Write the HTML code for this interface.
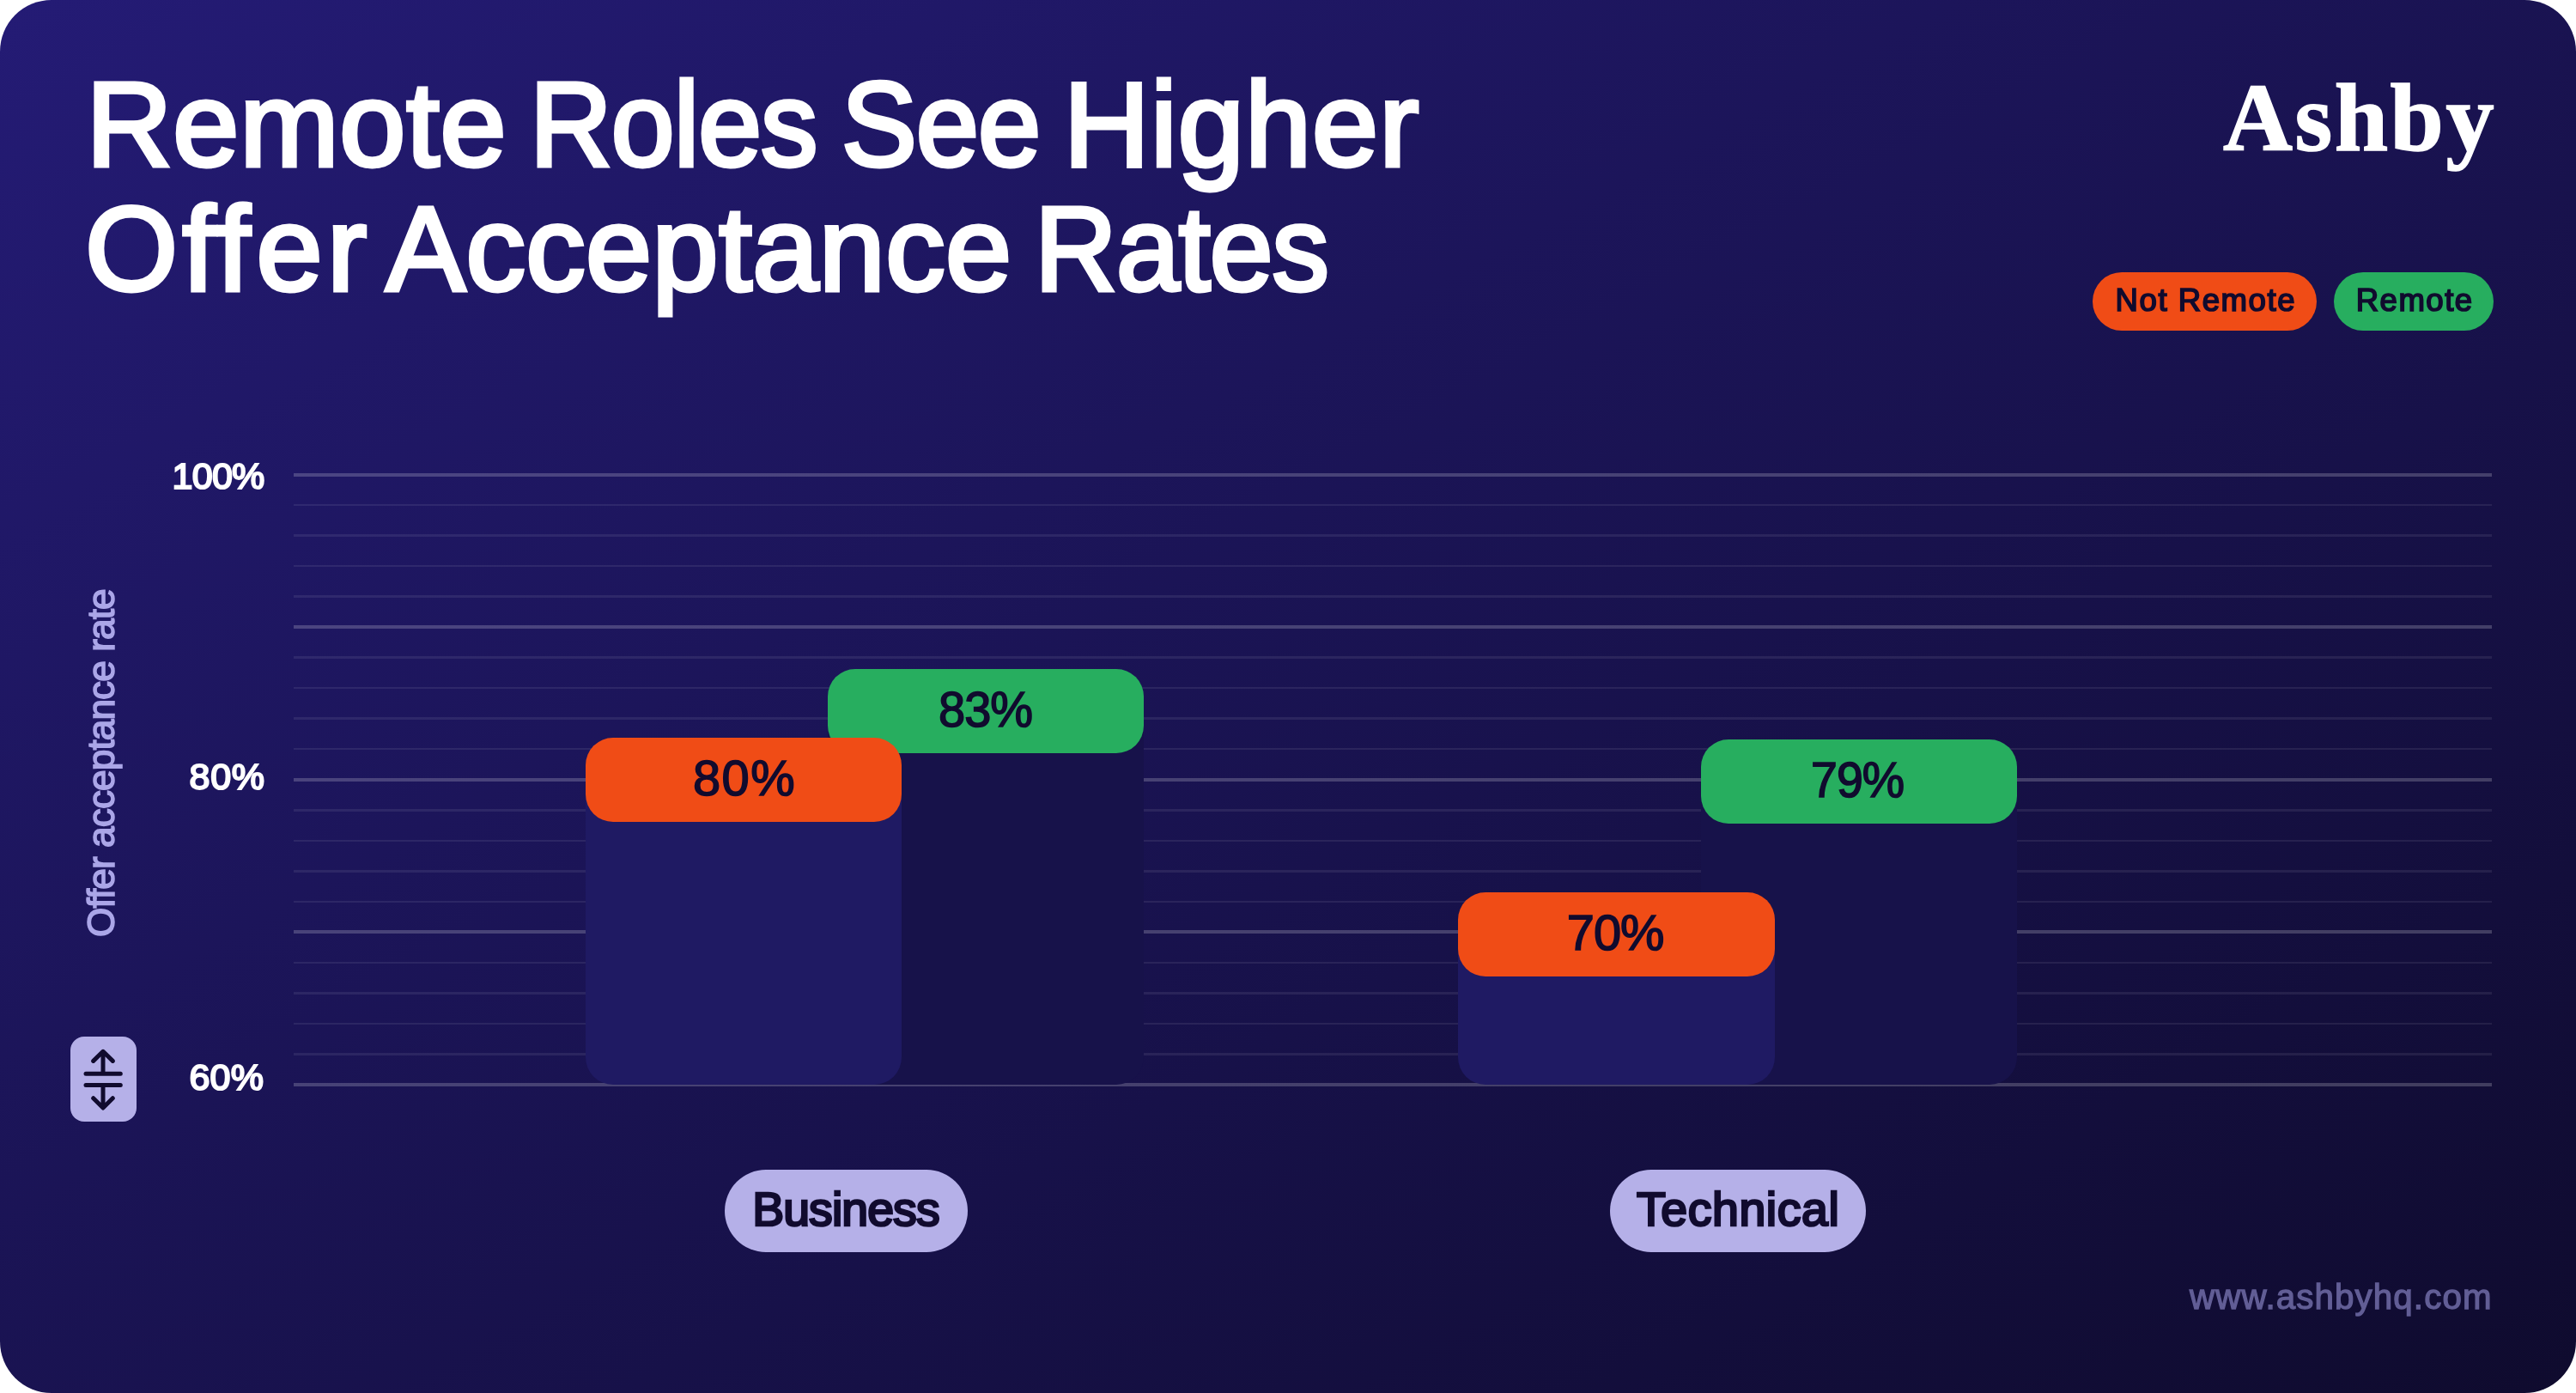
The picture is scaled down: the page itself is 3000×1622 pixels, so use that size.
<!DOCTYPE html>
<html lang="en">
<head>
<meta charset="utf-8">
<title>Remote Roles See Higher Offer Acceptance Rates</title>
<style>
  html, body { margin: 0; padding: 0; background: #ffffff; }
  body { width: 3000px; height: 1622px; overflow: hidden; position: relative;
         font-family: "Liberation Sans", sans-serif; }
  .card { position: absolute; left: 0; top: 0; width: 3000px; height: 1622px;
          border-radius: 60px; overflow: hidden;
          background: linear-gradient(to bottom right, #241b75 0%, #0f0b2e 100%); will-change: transform; }
  .t { position: absolute; white-space: nowrap; line-height: 1; margin: 0; padding: 0; transform-origin: 0 0; }
  h1 { margin: 0; padding: 0; font-size: inherit; font-weight: inherit; }

  .title { color: #ffffff; font-weight: 400; font-size: 138.5px; -webkit-text-stroke: 4.8px #ffffff; }

  #logo { color: #ffffff; font-family: "Liberation Serif", serif; font-weight: 700; font-size: 112px; -webkit-text-stroke: 1.6px #ffffff; }

  .pill { position: absolute; border-radius: 999px; }
  #lg1 { left: 2437px; top: 317px; width: 260.5px; height: 68px; background: #f04c16; }
  #lg2 { left: 2717.5px; top: 317px; width: 186px; height: 68px; background: #27ae5f; }
  .lgt { color: #110b2e; font-size: 36.6px; -webkit-text-stroke: 1.7px #110b2e; }

  .gl { position: absolute; left: 342px; width: 2560px; }
  .gl.major { height: 4px; background: rgba(255,255,255,0.2); }
  .gl.minor { height: 2.5px; background: rgba(255,255,255,0.08); }

  .tick { color: #ffffff; font-size: 43px; -webkit-text-stroke: 2.1px #ffffff; }

  #ylab { color: #aba6e8; font-size: 44.3px; left: 0; top: 0; -webkit-text-stroke: 1.5px #aba6e8; }

  .bar { position: absolute; border-radius: 0 0 32px 32px; }
  .cap { position: absolute; border-radius: 32px; height: 98px; }
  .val { color: #110b2e; font-size: 57.8px; -webkit-text-stroke: 1.6px #110b2e; }
  .front { background: #1f1a63; }
  .back { background: #17124a; }
  .or { background: #f04c16; }
  .gr { background: #27ae5f; }

  .cat { background: #b5b0e8; }
  .catt { color: #110b2e; font-size: 55.4px; -webkit-text-stroke: 2.7px #110b2e; }

  #icon { position: absolute; left: 82px; top: 1207px; width: 76.5px; height: 99px;
          border-radius: 16px; background: #b5b0e8; }
  #icon svg { display: block; }

  #url { color: #625e96; font-size: 40.3px; -webkit-text-stroke: 1.3px #625e96; }
</style>
</head>
<body>
<div class="card">

  <h1 class="title">
    <span class="t" style="left:100.50px;top:75.96px;letter-spacing:0.80px">Remote</span>
    <span class="t" style="left:617.08px;top:75.96px;letter-spacing:-1.00px;transform:scaleX(0.9580)">Roles</span>
    <span class="t" style="left:979.60px;top:75.96px;letter-spacing:-1.00px;transform:scaleX(0.9498)">See</span>
    <span class="t" style="left:1238.80px;top:75.96px;letter-spacing:1.12px">Higher</span>
    <span class="t" style="left:99.30px;top:220.96px;letter-spacing:5.47px">Of<span style="margin-left:-3.6px">f</span><span style="margin-left:1.6px">e</span>r</span>
    <span class="t" style="left:449.50px;top:220.96px;letter-spacing:0.54px">Acceptance</span>
    <span class="t" style="left:1205.27px;top:220.96px;letter-spacing:-1.00px;transform:scaleX(0.9584)">Rates</span>
  </h1>

  <div class="t" id="logo" style="left:2589.00px;top:81.30px;letter-spacing:2.60px">Ashby</div>

  <div class="pill" id="lg1"></div>
  <div class="pill" id="lg2"></div>
  <div class="t lgt" style="left:2463.60px;top:331.97px;letter-spacing:1.53px">Not Remote</div>
  <div class="t lgt" style="left:2743.70px;top:331.97px;letter-spacing:1.48px">Remote</div>

  <div class="gl major" style="top:550.50px"></div>
  <div class="gl minor" style="top:586.77px"></div>
  <div class="gl minor" style="top:622.30px"></div>
  <div class="gl minor" style="top:657.83px"></div>
  <div class="gl minor" style="top:693.35px"></div>
  <div class="gl major" style="top:728.12px"></div>
  <div class="gl minor" style="top:764.40px"></div>
  <div class="gl minor" style="top:799.92px"></div>
  <div class="gl minor" style="top:835.45px"></div>
  <div class="gl minor" style="top:870.97px"></div>
  <div class="gl major" style="top:905.75px"></div>
  <div class="gl minor" style="top:942.02px"></div>
  <div class="gl minor" style="top:977.55px"></div>
  <div class="gl minor" style="top:1013.08px"></div>
  <div class="gl minor" style="top:1048.60px"></div>
  <div class="gl major" style="top:1083.38px"></div>
  <div class="gl minor" style="top:1119.65px"></div>
  <div class="gl minor" style="top:1155.17px"></div>
  <div class="gl minor" style="top:1190.70px"></div>
  <div class="gl minor" style="top:1226.22px"></div>
  <div class="gl major" style="top:1261.00px"></div>

  <!-- Business: Remote (behind) -->
  <div class="bar back" style="left:964px;top:828px;width:368px;height:434.5px"></div>
  <div class="cap gr" style="left:964px;top:779px;width:368px"></div>
  <div class="t val" style="left:1092.86px;top:798.27px;letter-spacing:-1.00px;transform:scaleX(0.9691)">83%</div>
  <!-- Business: Not Remote (front) -->
  <div class="bar front" style="left:682px;top:908px;width:368px;height:354.5px"></div>
  <div class="cap or" style="left:682px;top:859px;width:368px"></div>
  <div class="t val" style="left:807.00px;top:878.27px;letter-spacing:1.45px">80%</div>
  <!-- Technical: Remote (behind) -->
  <div class="bar back" style="left:1980.5px;top:910px;width:368px;height:352.5px"></div>
  <div class="cap gr" style="left:1980.5px;top:861px;width:368px"></div>
  <div class="t val" style="left:2109.28px;top:880.07px;letter-spacing:-1.00px;transform:scaleX(0.9600)">79%</div>
  <!-- Technical: Not Remote (front) -->
  <div class="bar front" style="left:1698px;top:1088px;width:368.5px;height:174.5px"></div>
  <div class="cap or" style="left:1698px;top:1039px;width:368.5px"></div>
  <div class="t val" style="left:1824.80px;top:1058.07px;letter-spacing:-1.00px">70%</div>

  <div class="t tick" style="left:200.40px;top:533.35px;letter-spacing:-0.67px">100%</div>
  <div class="t tick" style="left:220.60px;top:883.45px;letter-spacing:0.65px">80%</div>
  <div class="t tick" style="left:220.40px;top:1233.35px;letter-spacing:0.30px">60%</div>

  <div class="t" id="ylab" style="letter-spacing:-0.97px;transform:translate(96.15px,1091.10px) rotate(-90deg)">Offer acceptance rate</div>

  <div id="icon">
    <svg width="76.5" height="99" viewBox="0 0 76.5 99" fill="none" stroke="#110b2e" stroke-width="5" stroke-linecap="round" stroke-linejoin="round">
      <path d="M18 43.3 H58.3 M18 56.5 H58.3 M38 43.3 V17.5 M26.7 28.4 L38 17.3 L49.3 28.4 M38 56.5 V82.8 M26.7 71.7 L38 83 L49.3 71.7"/>
    </svg>
  </div>

  <div class="pill cat" style="left:843.5px;top:1362px;width:283.5px;height:96px"></div>
  <div class="t catt" style="left:876.20px;top:1381.15px;letter-spacing:-0.91px">Business</div>
  <div class="pill cat" style="left:1875px;top:1362px;width:297.5px;height:96px"></div>
  <div class="t catt" style="left:1906.00px;top:1381.15px;letter-spacing:0.61px">Technical</div>

  <div class="t" id="url" style="left:2550.00px;top:1491.14px;letter-spacing:1.11px">www.ashbyhq.com</div>

</div>
</body>
</html>
